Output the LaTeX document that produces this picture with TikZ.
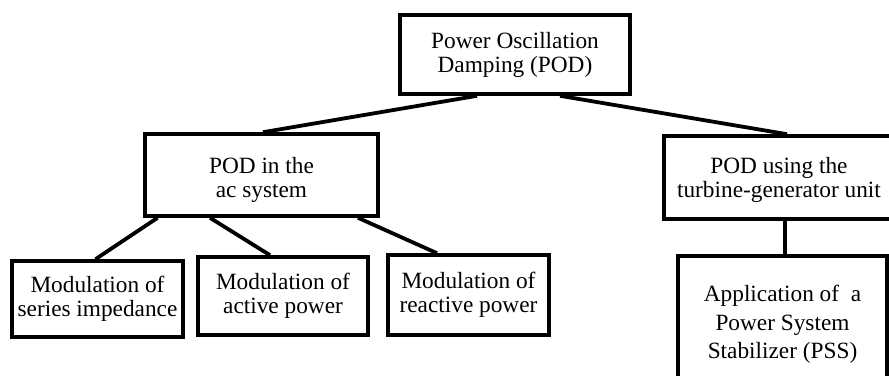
\documentclass[tikz,border=0pt]{standalone}
\usepackage{fontspec}
\setmainfont{Liberation Serif}
\begin{document}
\begin{tikzpicture}[x=1pt,y=-1pt,
  box/.style={draw=black, line width=3.6pt, inner sep=0pt, align=center,
    font=\fontsize{23.3}{24}\selectfont},
  link/.style={draw=black, line width=3.8pt}]
\useasboundingbox (0,0) rectangle (889,375);
\fill[white] (0,0) rectangle (889,375);
\clip (0,0) rectangle (889,375);

\node[box, minimum width=230pt, minimum height=79pt] (top) at (515,54.5)
  {Power Oscillation\\Damping (POD)};
\node[box, minimum width=233pt, minimum height=82pt] (ac) at (261.5,175)
  {\rule{0pt}{26pt}POD in the\\ac system};
\node[box, minimum width=230pt, minimum height=83pt] (tg) at (779,177.5)
  {\rule{0pt}{22pt}POD using the\\turbine-generator unit};
\node[box, minimum width=171pt, minimum height=76pt] (m1) at (97.5,299)
  {Modulation of\\series impedance};
\node[box, minimum width=170pt, minimum height=78pt] (m2) at (283,296)
  {Modulation of\\active power};
\node[box, minimum width=161pt, minimum height=80pt] (m3) at (468.5,295)
  {Modulation of\\reactive power};
\node[box, minimum width=209pt, minimum height=137pt,
  font=\fontsize{23.3}{28.5}\selectfont] (pss) at (782.5,324.5)
  {Application of~ a\\Power System\\Stabilizer (PSS)};

\draw[link] ([xshift=-38pt]top.south) -- ([xshift=1.5pt]ac.north);
\draw[link] ([xshift=45pt]top.south) -- ([xshift=8pt]tg.north);
\draw[link] ([xshift=-104pt]ac.south) -- ([xshift=-2pt]m1.north);
\draw[link] ([xshift=-51.5pt]ac.south) -- ([xshift=-13pt]m2.north);
\draw[link] ([xshift=96.5pt]ac.south) -- ([xshift=-31.5pt]m3.north);
\draw[link] ([xshift=6pt]tg.south) -- ([xshift=6pt]tg.south |- pss.north);
\end{tikzpicture}
\end{document}
